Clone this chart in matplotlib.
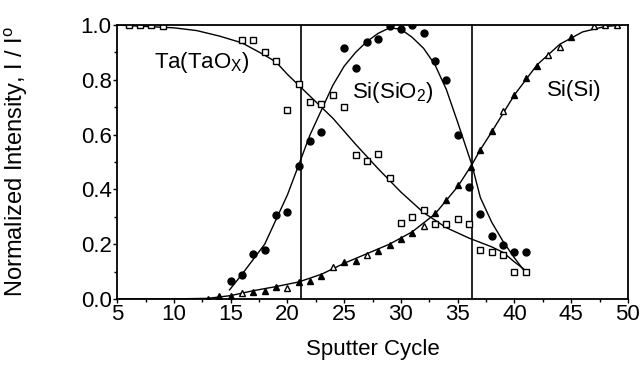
import matplotlib
matplotlib.use("Agg")
import matplotlib.pyplot as plt
from matplotlib.ticker import MultipleLocator

plt.rcParams['font.family'] = ['Liberation Sans', 'DejaVu Sans']

# Ta(TaOx) - open squares
ta_x = [6, 7, 8, 9, 16, 17, 18, 19, 20, 21, 22, 23, 24, 25, 26, 27, 28, 29,
        30, 31, 32, 33, 34, 35, 36, 37, 38, 39, 40, 41]
ta_y = [1.0, 1.0, 1.0, 0.995, 0.945, 0.945, 0.90, 0.87, 0.69, 0.785, 0.72, 0.71,
        0.745, 0.70, 0.525, 0.505, 0.53, 0.44, 0.276, 0.30, 0.325, 0.275, 0.275,
        0.29, 0.275, 0.18, 0.17, 0.16, 0.10, 0.10]

# Si(SiO2) - filled circles
sio2_x = [15, 16, 17, 18, 19, 20, 21, 22, 23, 25, 26, 27, 28, 29, 30, 31, 32,
          33, 34, 35, 36, 37, 38, 39, 40, 41]
sio2_y = [0.066, 0.087, 0.165, 0.18, 0.305, 0.318, 0.485, 0.575, 0.61, 0.915,
          0.845, 0.94, 0.95, 0.995, 0.985, 1.0, 0.97, 0.87, 0.80, 0.60, 0.41,
          0.31, 0.23, 0.195, 0.17, 0.17]

# Si(Si) - triangles (filled / open mixed)
si_x = [13, 14, 15, 16, 17, 18, 19, 20, 21, 22, 23, 24, 25, 26, 27, 28, 29, 30,
        31, 32, 33, 34, 35, 36.2, 37, 38, 39, 40, 41, 42, 43, 44, 45, 47, 48, 49]
si_y = [0.0, 0.01, 0.01, 0.02, 0.025, 0.03, 0.045, 0.04, 0.06, 0.067, 0.085,
        0.117, 0.135, 0.14, 0.16, 0.175, 0.195, 0.22, 0.24, 0.265, 0.315, 0.36,
        0.415, 0.48, 0.545, 0.615, 0.685, 0.745, 0.805, 0.85, 0.89, 0.92, 0.955,
        0.995, 1.0, 1.0]
si_open = [16, 20, 24, 27, 32, 39, 43, 44, 47, 48, 49]

# fitted curves
ta_fit_x = [5, 10, 12, 14, 16, 18, 19, 20, 21, 22, 23, 24, 26, 28, 30, 32, 34,
            36, 38, 39, 40, 40.8]
ta_fit_y = [1.0, 0.99, 0.98, 0.96, 0.935, 0.89, 0.865, 0.82, 0.78, 0.74, 0.70,
            0.66, 0.565, 0.475, 0.39, 0.315, 0.26, 0.222, 0.19, 0.17, 0.135, 0.11]
sio2_fit_x = [14.9, 16, 18, 20, 21, 22, 23, 24, 25, 26, 27, 28, 29, 30, 31, 32,
              33, 34, 35, 36.25, 37, 38, 39, 40, 41]
sio2_fit_y = [0.033, 0.09, 0.2, 0.38, 0.49, 0.6, 0.69, 0.78, 0.85, 0.9, 0.94,
              0.97, 0.99, 0.985, 0.955, 0.915, 0.855, 0.765, 0.645, 0.49, 0.37,
              0.28, 0.21, 0.15, 0.095]
si_fit_x = [5, 10, 13, 15, 17, 19, 21, 23, 25, 27, 29, 31, 33, 35, 36.25, 37,
            38, 40, 42, 44, 46, 48, 49.5]
si_fit_y = [0.0, 0.0, 0.002, 0.012, 0.03, 0.045, 0.062, 0.09, 0.13, 0.165, 0.2,
            0.245, 0.31, 0.41, 0.49, 0.545, 0.61, 0.745, 0.855, 0.93, 0.975,
            0.995, 1.0]

boundaries = [21.2, 36.25]

fig = plt.figure(figsize=(6.44, 3.69), dpi=100)
ax = fig.add_axes([0.182, 0.19, 0.793, 0.742])

ax.plot(ta_fit_x, ta_fit_y, color='black', lw=1.0)
ax.plot(sio2_fit_x, sio2_fit_y, color='black', lw=1.0)
ax.plot(si_fit_x, si_fit_y, color='black', lw=1.0)
for b in boundaries:
    ax.plot([b, b], [0, 1], color='black', lw=1.2)

ax.plot(ta_x, ta_y, 's', ms=5, mfc='white', mec='black', mew=1.0)
ax.plot(sio2_x, sio2_y, 'o', ms=5, color='black')
fx = [x for x, y in zip(si_x, si_y) if x not in si_open]
fy = [y for x, y in zip(si_x, si_y) if x not in si_open]
ox = [x for x, y in zip(si_x, si_y) if x in si_open]
oy = [y for x, y in zip(si_x, si_y) if x in si_open]
ax.plot(fx, fy, '^', ms=5, color='black')
ax.plot(ox, oy, '^', ms=5, mfc='white', mec='black', mew=1.0)

ax.text(8.2, 0.865, 'Ta(TaO$_\\mathregular{X}$)', fontsize=16, va='center')
ax.text(25.7, 0.755, 'Si(SiO$_\\mathregular{2}$)', fontsize=16, va='center')
ax.text(42.9, 0.76, 'Si(Si)', fontsize=16, va='center')

ax.set_xlim(5, 50)
ax.set_ylim(0, 1.0)
ax.xaxis.set_major_locator(MultipleLocator(5))
ax.xaxis.set_minor_locator(MultipleLocator(2.5))
ax.yaxis.set_major_locator(MultipleLocator(0.2))
ax.yaxis.set_minor_locator(MultipleLocator(0.1))
ax.set_yticks([0, 0.2, 0.4, 0.6, 0.8, 1.0])
ax.set_yticklabels(['%.1f' % v for v in [0, 0.2, 0.4, 0.6, 0.8, 1.0]])
ax.tick_params(which='major', direction='out', length=3, width=1, labelsize=16, pad=1)
ax.tick_params(which='minor', direction='out', length=2, width=1)
for s in ax.spines.values():
    s.set_linewidth(1.3)

ax.set_xlabel('Sputter Cycle', fontsize=16, labelpad=10)
ax.set_ylabel('Normalized Intensity, I / I$^\\mathregular{o}$', fontsize=17)
ax.yaxis.set_label_coords(-0.17, 0.5)

fig.savefig('out.png', dpi=100)
